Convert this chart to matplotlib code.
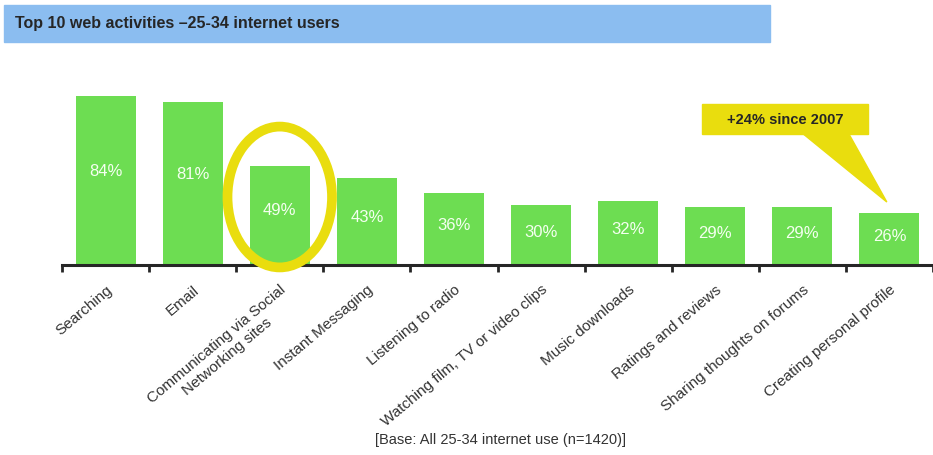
import numpy as np
import matplotlib
matplotlib.use('Agg')
import matplotlib.pyplot as plt
from matplotlib.patches import Ellipse, Polygon, Rectangle

#
# data
#
activities = [
    "Searching",
    "Email",
    "Communicating via Social\nNetworking sites",
    "Instant Messaging",
    "Listening to radio",
    "Watching film, TV or video clips",
    "Music downloads",
    "Ratings and reviews",
    "Sharing thoughts on forums",
    "Creating personal profile",
]
share = [84, 81, 49, 43, 36, 30, 32, 29, 29, 26]
title = "Top 10 web activities \u201325-34 internet users"
callout = "+24% since 2007"
footnote = "[Base: All 25-34 internet use (n=1420)]"

BAR = '#6ddd52'
YELLOW = '#e9dd0e'
INK = '#262626'

plt.rcParams['font.family'] = ['Liberation Sans', 'DejaVu Sans']

W, H = 933, 456
fig = plt.figure(figsize=(W / 100, H / 100), dpi=100)

# title strip
fig.patches.append(Rectangle((4 / W, 1 - 43 / H), 766 / W, 37 / H,
                             transform=fig.transFigure, color='#8bbdf0', zorder=0))
fig.text(15 / W, 1 - 24 / H, title, fontsize=11.5, fontweight='bold', color=INK,
         va='center')

#
# bars
#
ax = fig.add_axes([62 / W, 1 - 266 / H, 871 / W, 206 / H])
x = np.arange(len(share))
ax.bar(x, share, width=0.69, color=BAR, zorder=2)
for xi, v in zip(x, share):
    ax.text(xi, v * 0.56, f"{v}%", ha='center', va='center', color='#f4fff0',
            fontsize=12, zorder=3)

ax.set_xlim(-0.5, 9.4)
ax.set_ylim(0, 102.4)
for s in ('top', 'right', 'left'):
    ax.spines[s].set_visible(False)
ax.spines['bottom'].set_linewidth(2.2)
ax.spines['bottom'].set_color(INK)
ax.set_yticks([])

ax.set_xticks(x)
ax.set_xticklabels(activities, rotation=40, ha='right', rotation_mode='anchor',
                   fontsize=11, color='#333333', multialignment='center')
ax.tick_params(axis='x', which='major', length=0, pad=12)
ax.set_xticks(np.arange(-0.5, len(share), 1), minor=True)
ax.tick_params(axis='x', which='minor', length=5, width=2, color=INK)

# highlight ring round the social networking bar
ax.add_patch(Ellipse((2, 33.8), 1.2, 70, fill=False, edgecolor=YELLOW, lw=7,
                     zorder=4, clip_on=False))

# speech bubble pointing at the last bar
tip = (x[-1] - 0.03, share[-1] + 5.3)
ax.add_patch(Polygon([(8.0, 65.5), (8.53, 65.5), tip], closed=True,
                     color=YELLOW, zorder=4, clip_on=False))
ax.add_patch(Rectangle((6.85, 65.1), 1.9, 14.9, color=YELLOW, zorder=4, clip_on=False))
ax.text(7.8, 72.6, callout, ha='center', va='center', fontsize=10.5,
        fontweight='bold', color=INK, zorder=5)

fig.text(501 / W, 1 - 440 / H, footnote, ha='center', va='center',
         fontsize=10.5, color='#333333')

fig.savefig('out.png', dpi=100)
